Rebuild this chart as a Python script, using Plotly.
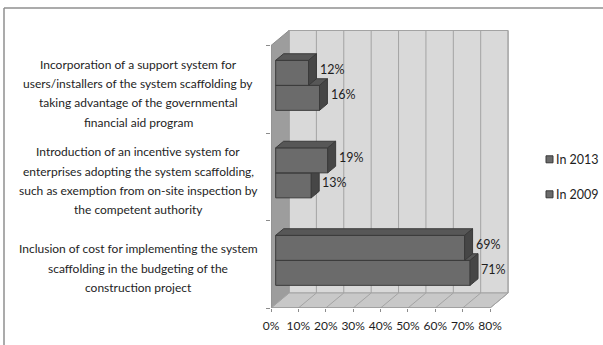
import plotly.graph_objects as go

# ---- data -------------------------------------------------------------
categories = [
    ["Inclusion of cost for implementing the system",
     "scaffolding in the budgeting of the",
     "construction project"],
    ["Introduction of an incentive system for",
     "enterprises adopting the system scaffolding,",
     "such as exemption from on-site inspection by",
     "the competent authority"],
    ["Incorporation of a support system for",
     "users/installers of the system scaffolding by",
     "taking advantage of the governmental",
     "financial aid program"],
]
series_names = ["In 2013", "In 2009"]
values_2013 = [69, 19, 12]
values_2009 = [71, 13, 16]
x_ticks = [0, 10, 20, 30, 40, 50, 60, 70, 80]
x_tick_labels = [f"{t}%" for t in x_ticks]

# ---- layout geometry ----------------------------------------------------
W, H = 603, 345
M_L, M_R, M_T, M_B = 271, 91, 28, 37
X_MAX = 88.0           # axis units (percent)
Y_MAX = 3.2            # axis units (categories)
plot_w = W - M_L - M_R
plot_h = H - M_T - M_B
px_x = plot_w / X_MAX  # pixels per percent
px_y = plot_h / Y_MAX  # pixels per category

# oblique depth of the 3-D box (pixels -> axis units)
DX = 18 / px_x
DY = 15 / px_y
X_END = x_ticks[-1]
N_CAT = len(categories)

# bar placement inside the depth, and bar thickness
D0 = 0.26              # bar front face depth fraction
BD = 0.44              # bar depth fraction
BAR_H = 25 / px_y

FONT = "Lato, sans-serif"
TXT = "#1e1e1e"
C_FRONT, C_TOP, C_SIDE, C_EDGE = "#6b6b6b", "#575757", "#464646", "#3a3a3a"
C_BACK, C_FLOOR, C_WALL, C_GRID = "#d9d9d9", "#c8c8c8", "#9d9d9d", "#a3a3a3"

fig = go.Figure()


def poly(xs, ys, fill, line=None, width=1):
    fig.add_trace(go.Scatter(
        x=xs + [xs[0]], y=ys + [ys[0]], mode="lines", fill="toself",
        fillcolor=fill, line=dict(color=line or fill, width=width),
        hoverinfo="skip", showlegend=False))


def seg(x0, y0, x1, y1, color, width=1):
    fig.add_trace(go.Scatter(
        x=[x0, x1], y=[y0, y1], mode="lines",
        line=dict(color=color, width=width),
        hoverinfo="skip", showlegend=False))


# walls and floor
poly([DX, X_END + DX, X_END + DX, DX],
     [DY, DY, N_CAT + DY, N_CAT + DY], C_BACK, C_GRID)
poly([0, DX, DX, 0], [0, DY, N_CAT + DY, N_CAT], C_WALL, "#8c8c8c")
poly([0, X_END, X_END + DX, DX], [0, 0, DY, DY], C_FLOOR, C_GRID)

# gridlines on back wall and floor
for t in x_ticks:
    seg(t + DX, DY, t + DX, N_CAT + DY, C_GRID)
    seg(t, 0, t + DX, DY, C_GRID)
seg(0, 0, X_END, 0, "#8c8c8c")


def bar(v, y_bottom):
    x0 = D0 * DX
    yb = y_bottom
    yt = y_bottom + BAR_H
    x1 = x0 + v
    bx, by = BD * DX, BD * DY
    poly([x0, x1, x1, x0], [yb, yb, yt, yt], C_FRONT, C_EDGE)
    poly([x0, x1, x1 + bx, x0 + bx], [yt, yt, yt + by, yt + by], C_TOP, C_EDGE)
    poly([x1, x1 + bx, x1 + bx, x1], [yb, yb + by, yt + by, yt], C_SIDE, C_EDGE)


annotations = []
for i in range(N_CAT):
    yc = i + 0.5 + D0 * DY
    # lower bar (2009) first so the upper bar (2013) sits on top of it
    for v, yb in ((values_2009[i], yc - BAR_H), (values_2013[i], yc)):
        bar(v, yb)
        annotations.append(dict(
            x=D0 * DX + v + BD * DX + 0.4, y=yb + BAR_H / 2 + BD * DY / 2,
            xref="x", yref="y", text=f"{v}%", showarrow=False,
            xanchor="left", yanchor="middle",
            font=dict(family=FONT, size=12.5, color=TXT)))

# category labels, one annotation per line for tight line spacing
LINE = 19.3 / px_y
label_x = (138 - M_L) / plot_w
for i, lines in enumerate(categories):
    centre = i + 0.5 - 0.045
    n = len(lines)
    for k, txt in enumerate(lines):
        annotations.append(dict(
            x=label_x, y=centre + ((n - 1) / 2 - k) * LINE,
            xref="paper", yref="y", text=txt, showarrow=False,
            xanchor="center", yanchor="middle",
            font=dict(family=FONT, size=12, color=TXT)))

# legend
shapes = []
leg_y = [159.3, 194.3]
for name, ly in zip(series_names, leg_y):
    yc = (H - M_B - ly) / plot_h
    shapes.append(dict(
        type="rect", xref="paper", yref="paper",
        x0=(546 - M_L) / plot_w, x1=(553 - M_L) / plot_w,
        y0=yc - 3.5 / plot_h, y1=yc + 3.5 / plot_h,
        fillcolor=C_FRONT, line=dict(color=C_EDGE, width=1)))
    annotations.append(dict(
        x=(554 - M_L) / plot_w, y=yc, xref="paper", yref="paper",
        text=name, showarrow=False, xanchor="left", yanchor="middle",
        font=dict(family=FONT, size=12.5, color=TXT)))

# outer chart frame (top and left edges)
fx0 = (4 - M_L) / plot_w
fy0 = (H - M_B - 8) / plot_h
shapes.append(dict(type="line", xref="paper", yref="paper",
                   x0=fx0, x1=(W + 5 - M_L) / plot_w, y0=fy0, y1=fy0,
                   line=dict(color="#8f8f8f", width=1.5)))
shapes.append(dict(type="line", xref="paper", yref="paper",
                   x0=fx0, x1=fx0, y0=fy0, y1=-(M_B + 5) / plot_h,
                   line=dict(color="#8f8f8f", width=1.5)))

fig.update_layout(
    width=W, height=H,
    margin=dict(l=M_L, r=M_R, t=M_T, b=M_B),
    paper_bgcolor="white", plot_bgcolor="white",
    showlegend=False,
    xaxis=dict(range=[0, X_MAX], tickvals=x_ticks, ticktext=x_tick_labels,
               tickangle=0, showgrid=False, zeroline=False, showline=False,
               ticks="outside", ticklen=3, tickcolor="#8c8c8c",
               ticklabelstandoff=4,
               tickfont=dict(family=FONT, size=12, color=TXT),
               fixedrange=True),
    yaxis=dict(range=[0, Y_MAX], tickvals=list(range(N_CAT + 1)),
               showticklabels=False, showgrid=False, zeroline=False,
               showline=False, ticks="outside", ticklen=4,
               tickcolor="#8c8c8c", fixedrange=True),
    annotations=annotations,
    shapes=shapes,
)

fig.write_html("out.html")
